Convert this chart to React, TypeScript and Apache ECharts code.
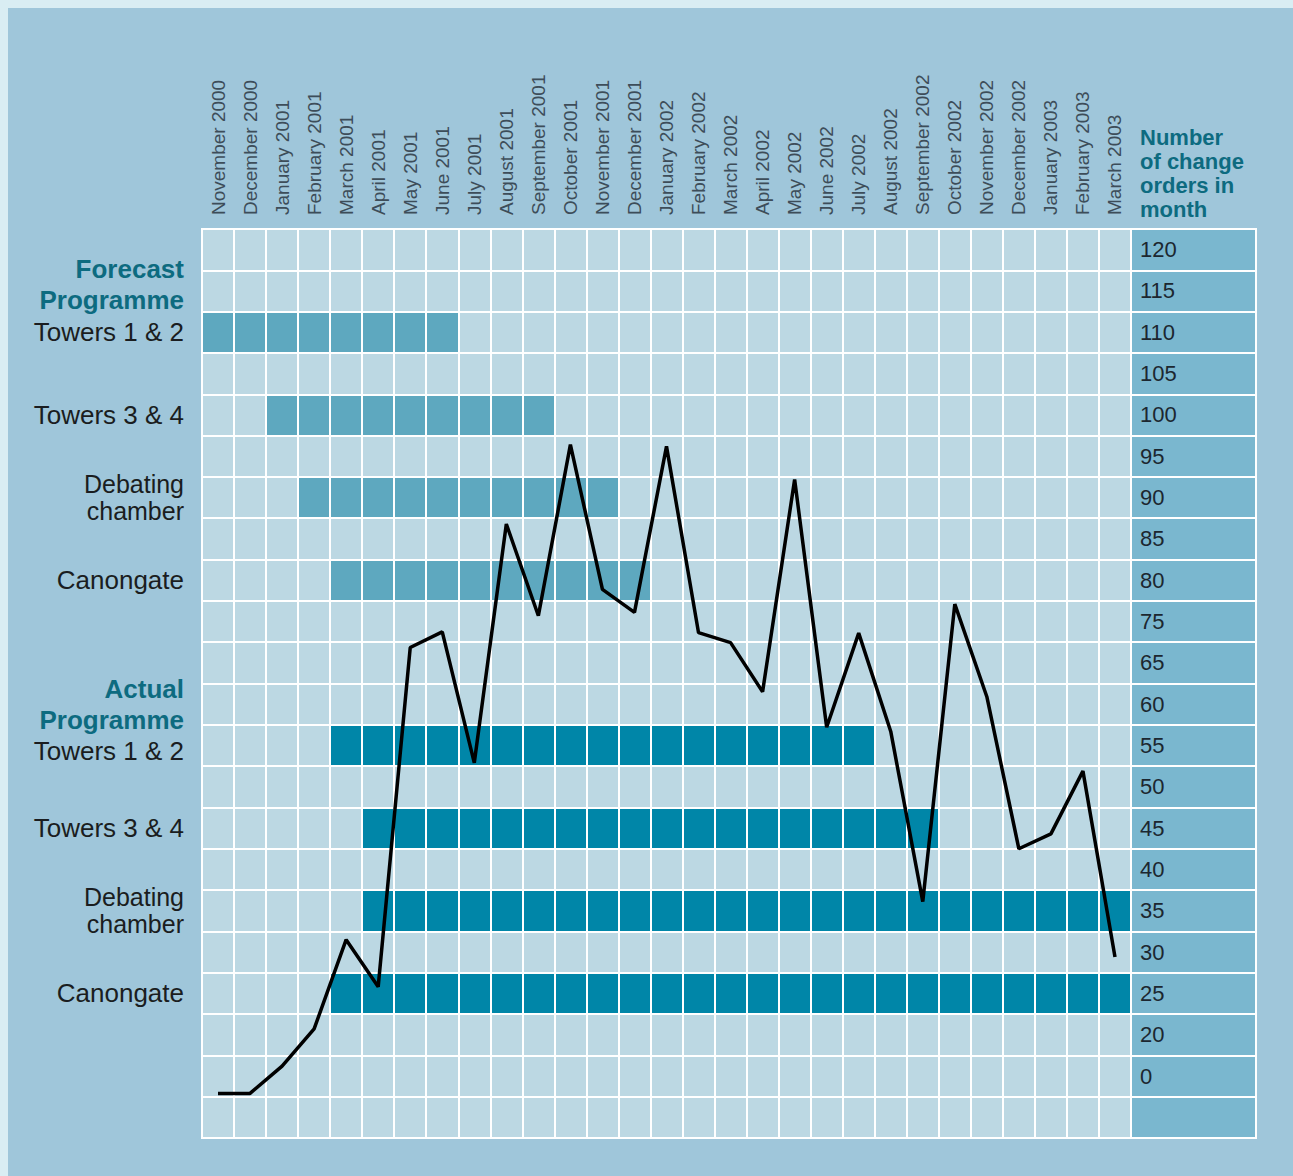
import React, { useEffect, useRef } from "react";
import * as echarts from "echarts";

const months = [
  "November 2000", "December 2000", "January 2001", "February 2001", "March 2001", "April 2001",
  "May 2001", "June 2001", "July 2001", "August 2001", "September 2001", "October 2001",
  "November 2001", "December 2001", "January 2002", "February 2002", "March 2002", "April 2002",
  "May 2002", "June 2002", "July 2002", "August 2002", "September 2002", "October 2002",
  "November 2002", "December 2002", "January 2003", "February 2003", "March 2003",
];

// Right-hand scale labels, top to bottom (the last row of the grid is unlabelled)
const scaleLabels = [120, 115, 110, 105, 100, 95, 90, 85, 80, 75, 65, 60, 55, 50, 45, 40, 35, 30, 25, 20, 0];

// Number of change orders in month, read against the right-hand scale
const changeOrders = [
  -8.4, -8.4, 4.8, 20.7, 31.5, 25.8, 68.7, 72.5, 52.9, 86.8, 75.7, 96.4, 78.9, 76.1, 96.2,
  72.3, 69.9, 61.5, 92.2, 57.2, 72.2, 56.7, 36.1, 77.1, 60.9, 42.5, 44.3, 51.9, 29.4,
];

const projects = ["Towers 1 & 2", "Towers 3 & 4", "Debating\nchamber", "Canongate"];
const forecastStart = ["November 2000", "January 2001", "February 2001", "March 2001"];
const forecastEnd = ["June 2001", "September 2001", "November 2001", "December 2001"];
const actualStart = ["March 2001", "April 2001", "April 2001", "March 2001"];
const actualEnd = ["July 2002", "September 2002", "March 2003", "March 2003"];

const ROWS = scaleLabels.length + 1;
const FORECAST_ROW0 = 2;
const ACTUAL_ROW0 = 12;

const FONT = "'Liberation Sans', Arial, sans-serif";
const TEAL_TEXT = "#0d6b80";

function valueToRow(v: number): number {
  const n = scaleLabels.length;
  const anchors = [...scaleLabels, scaleLabels[n - 1] - (scaleLabels[n - 2] - scaleLabels[n - 1])];
  if (v > anchors[0]) {
    return 0.5 - (v - anchors[0]) / (anchors[0] - anchors[1]);
  }
  for (let i = 0; i < anchors.length - 1; i++) {
    const hi = anchors[i];
    const lo = anchors[i + 1];
    if (v <= hi && v >= lo) return i + 0.5 + (hi - v) / (hi - lo);
  }
  const last = anchors.length - 1;
  return last + 0.5 + (anchors[last] - v) / (anchors[last - 1] - anchors[last]);
}

export default function App() {
  const ref = useRef<HTMLDivElement>(null);

  useEffect(() => {
    if (!ref.current) return;
    const chart = echarts.init(ref.current, null, { renderer: "svg" });

    const rowLabels: string[] = new Array(ROWS).fill("");
    rowLabels[FORECAST_ROW0 - 1] = "{b|Forecast}\n{b|Programme}\n{s|}";
    rowLabels[ACTUAL_ROW0 - 1] = "{b|Actual}\n{b|Programme}";
    projects.forEach((p, i) => {
      const parts = p.split("\n");
      const style = parts.length > 1 ? "d" : "n";
      const txt = parts.map((s) => `{${style}|${s}}`).join("\n");
      rowLabels[FORECAST_ROW0 + 2 * i] = txt;
      rowLabels[ACTUAL_ROW0 + 2 * i] = i === 0 ? "{s|}\n" + txt : txt;
    });

    const forecastData = projects.map((_, i) => [
      months.indexOf(forecastStart[i]),
      months.indexOf(forecastEnd[i]),
      FORECAST_ROW0 + 2 * i,
    ]);
    const actualData = projects.map((_, i) => [
      months.indexOf(actualStart[i]),
      months.indexOf(actualEnd[i]),
      ACTUAL_ROW0 + 2 * i,
    ]);

    const renderBar = (params: any, api: any) => {
      const s = api.value(0);
      const e = api.value(1);
      const r = api.value(2);
      const p0 = api.coord([s, r]);
      const p1 = api.coord([e, r + 1]);
      const bw = api.size([1, 0])[0];
      return {
        type: "rect",
        shape: { x: p0[0] - bw / 2, y: p0[1], width: p1[0] - p0[0] + bw, height: p1[1] - p0[1] },
        style: { fill: api.visual("color") },
      };
    };

    const rightLabels = [...scaleLabels.map(String), ""];

    chart.setOption({
      animation: false,
      backgroundColor: "transparent",
      textStyle: { fontFamily: FONT },
      grid: [
        {
          left: 202, top: 229, width: 929, height: 909,
          show: true, backgroundColor: "#bcd8e3", borderColor: "#ffffff", borderWidth: 2,
        },
        {
          left: 1131, top: 229, width: 125, height: 909,
          show: true, backgroundColor: "#7ab7cf", borderColor: "#ffffff", borderWidth: 2,
        },
      ],
      xAxis: [
        {
          type: "category",
          gridIndex: 0,
          data: months,
          position: "top",
          boundaryGap: true,
          z: 5,
          axisLine: { show: true, lineStyle: { color: "#ffffff", width: 2 } },
          axisTick: { show: false },
          axisLabel: {
            interval: 0, rotate: 90, margin: 14, fontSize: 19, color: "#3d4d59", fontFamily: FONT,
          },
          splitLine: { show: true, interval: 0, lineStyle: { color: "#ffffff", width: 2 } },
        },
        { type: "value", gridIndex: 1, min: 0, max: 1, show: false },
      ],
      yAxis: [
        {
          type: "value",
          gridIndex: 0,
          min: 0,
          max: ROWS,
          interval: 1,
          inverse: true,
          z: 5,
          axisLine: { show: false },
          axisTick: { show: false },
          axisLabel: { show: false },
          splitLine: { show: true, lineStyle: { color: "#ffffff", width: 2 } },
        },
        {
          type: "category",
          gridIndex: 0,
          position: "left",
          inverse: true,
          data: rowLabels,
          axisLine: { show: false },
          axisTick: { show: false },
          splitLine: { show: false },
          axisLabel: {
            interval: 0,
            margin: 18,
            formatter: (v: string) => v,
            rich: {
              b: { fontSize: 26, fontWeight: "bold", color: TEAL_TEXT, lineHeight: 31, fontFamily: FONT, align: "right" },
              n: { fontSize: 26, color: "#1a1d20", lineHeight: 30, fontFamily: FONT, align: "right" },
              d: { fontSize: 25, color: "#1a1d20", lineHeight: 27, fontFamily: FONT, align: "right" },
              s: { fontSize: 10, lineHeight: 12 },
            },
          },
        },
        {
          type: "category",
          gridIndex: 1,
          position: "left",
          inverse: true,
          data: rightLabels,
          z: 5,
          axisLine: { show: false },
          axisTick: { show: false },
          axisLabel: {
            inside: true, interval: 0, margin: 9, fontSize: 22, color: "#1c2730", fontFamily: FONT,
          },
          splitLine: { show: true, interval: 0, lineStyle: { color: "#ffffff", width: 2 } },
        },
      ],
      graphic: [
        {
          type: "text",
          left: 1140,
          top: 125,
          style: {
            text: "Number\nof change\norders in\nmonth",
            fontSize: 22,
            fontWeight: "bold",
            lineHeight: 24,
            fill: TEAL_TEXT,
            fontFamily: FONT,
          },
        },
      ],
      series: [
        {
          name: "Forecast",
          type: "custom",
          xAxisIndex: 0,
          yAxisIndex: 0,
          renderItem: renderBar,
          encode: { x: [0, 1], y: 2 },
          itemStyle: { color: "#5ea8bf" },
          data: forecastData,
          z: 2,
        },
        {
          name: "Actual",
          type: "custom",
          xAxisIndex: 0,
          yAxisIndex: 0,
          renderItem: renderBar,
          encode: { x: [0, 1], y: 2 },
          itemStyle: { color: "#0086a8" },
          data: actualData,
          z: 2,
        },
        {
          name: "Change orders",
          type: "line",
          xAxisIndex: 0,
          yAxisIndex: 0,
          data: changeOrders.map((v, i) => [i, valueToRow(v)]),
          symbol: "none",
          lineStyle: { color: "#000000", width: 3.5 },
          z: 10,
        },
      ],
    });

    return () => chart.dispose();
  }, []);

  return (
    <div style={{ position: "absolute", left: 0, top: 0, width: 1293, height: 1176, background: "#d9edf3", overflow: "hidden" }}>
      <div style={{ position: "absolute", left: 8, top: 8, right: 0, bottom: 0, background: "#9fc6da" }} />
      <div ref={ref} style={{ position: "absolute", left: 0, top: 0, width: 1293, height: 1176 }} />
    </div>
  );
}
